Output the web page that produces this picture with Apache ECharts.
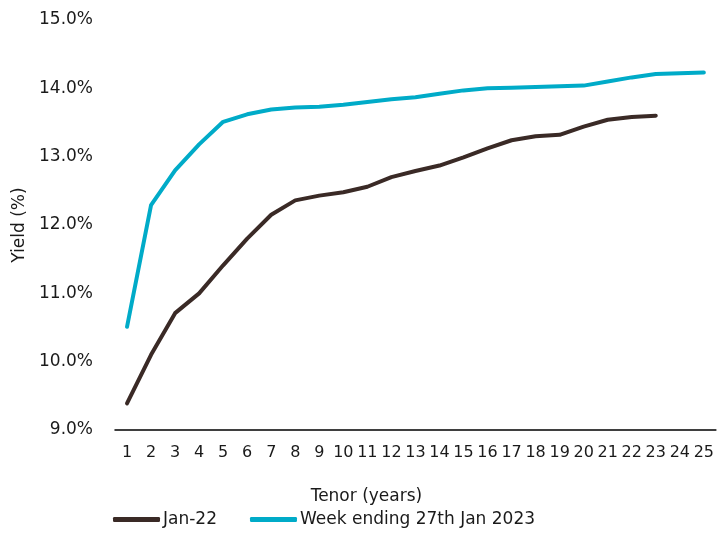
<!DOCTYPE html>
<html>
<head>
<meta charset="utf-8">
<script src="https://cdn.jsdelivr.net/npm/echarts@6/dist/echarts.min.js"></script>
<style>
  html, body { margin: 0; padding: 0; background: #fff; }
  #chart { width: 717px; height: 533px; }
</style>
</head>
<body>
<div id="chart"></div>
<script>
// Tenor buckets in years
const tenors = ['1','2','3','4','5','6','7','8','9','10','11','12','13','14','15','16','17','18','19','20','21','22','23','24','25'];

// Yield curve, January 2022 (%), runs to 23 years
const jan22 = [9.39, 10.10, 10.71, 11.00, 11.41, 11.80, 12.15, 12.36, 12.43, 12.48, 12.56, 12.70, 12.79, 12.87, 12.99, 13.12, 13.24, 13.30, 13.32, 13.44, 13.54, 13.58, 13.60, null, null];

// Yield curve, week ending 27 January 2023 (%)
const wk27Jan23 = [10.51, 12.29, 12.80, 13.18, 13.51, 13.62, 13.69, 13.72, 13.73, 13.76, 13.80, 13.84, 13.87, 13.92, 13.97, 14.00, 14.01, 14.02, 14.03, 14.04, 14.10, 14.16, 14.21, 14.22, 14.23];

const FONT = '"DejaVu Sans", sans-serif';
const TXT = '#1a1a1a';

const chart = echarts.init(document.getElementById('chart'));
chart.setOption({
  animation: false,
  textStyle: { fontFamily: FONT },
  grid: { left: 115, right: 0, top: 20, bottom: 103 },
  legend: {
    bottom: 0,
    left: 108,
    itemGap: 33,
    itemWidth: 47,
    itemHeight: 5,
    icon: 'roundRect',
    textStyle: { fontFamily: FONT, fontSize: 17, color: TXT, padding: [0, 0, 0, -2] },
    data: ['Jan-22', 'Week ending 27th Jan 2023']
  },
  xAxis: {
    type: 'category',
    data: tenors,
    boundaryGap: true,
    name: 'Tenor (years)',
    nameLocation: 'middle',
    nameGap: 58,
    nameTextStyle: { fontFamily: FONT, fontSize: 17, color: TXT, padding: [0, 98, 0, 0] },
    axisLine: { lineStyle: { color: '#000', width: 1.5 } },
    axisTick: { show: false },
    axisLabel: { interval: 0, fontFamily: FONT, fontSize: 16, color: TXT, margin: 15 }
  },
  yAxis: {
    type: 'value',
    min: 9,
    max: 15,
    interval: 1,
    name: 'Yield (%)',
    nameLocation: 'middle',
    nameGap: 87,
    nameRotate: 90,
    nameTextStyle: { fontFamily: FONT, fontSize: 17, color: TXT },
    axisLine: { show: false },
    axisTick: { show: false },
    splitLine: { show: false },
    axisLabel: {
      fontFamily: FONT, fontSize: 17, color: TXT, margin: 22,
      formatter: v => v.toFixed(1) + '%'
    }
  },
  series: [
    {
      name: 'Jan-22',
      type: 'line',
      data: jan22,
      showSymbol: false,
      symbol: 'none',
      lineStyle: { color: '#3a2a26', width: 4, cap: 'round', join: 'round' },
      itemStyle: { color: '#3a2a26' }
    },
    {
      name: 'Week ending 27th Jan 2023',
      type: 'line',
      data: wk27Jan23,
      showSymbol: false,
      symbol: 'none',
      lineStyle: { color: '#00abc8', width: 4, cap: 'round', join: 'round' },
      itemStyle: { color: '#00abc8' }
    }
  ]
});
</script>
</body>
</html>
